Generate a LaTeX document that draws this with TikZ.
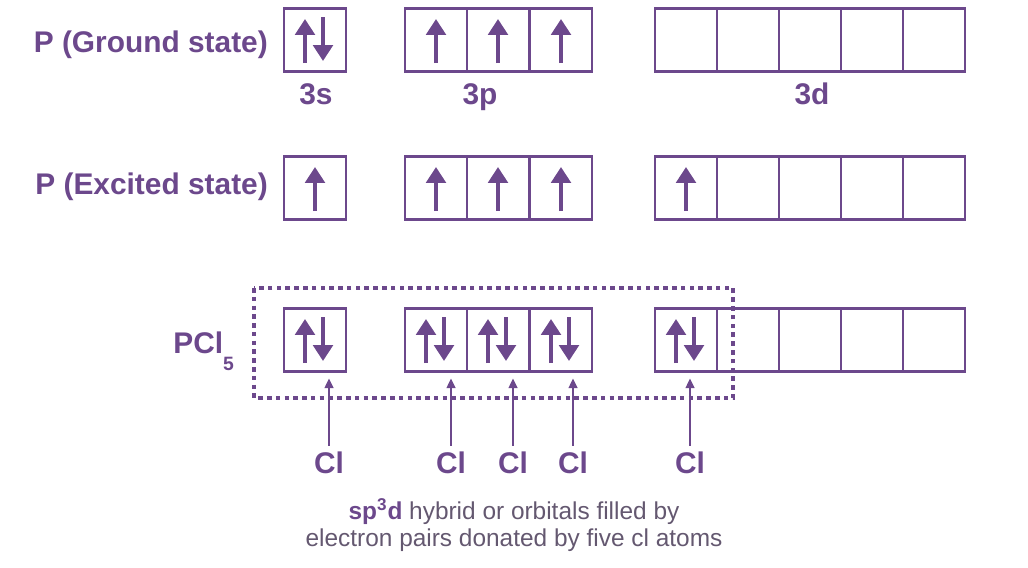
\documentclass[tikz,border=0pt]{standalone}
\usepackage{fontspec}
\setmainfont{Liberation Sans}
\usepackage{tikz}
\usetikzlibrary{arrows.meta}
\definecolor{orb}{RGB}{108,72,140}
\definecolor{note}{RGB}{100,88,112}

\begin{document}
\begin{tikzpicture}[x=0.02cm, y=-0.02cm,
    orbital/.style={draw=orb, line width=1.5pt, minimum width=1.24cm, minimum height=1.26cm, inner sep=0pt, outer sep=0pt},
    spin/.style={orb, line width=2.3pt, -{Triangle[width=11pt,length=9pt]}},
    lbl/.style={text=orb, font=\fontsize{17}{20}\selectfont\bfseries},
    donor/.style={orb, line width=1.2pt, -{Triangle[width=5pt,length=5.5pt]}}]
  \useasboundingbox (0,0) rectangle (1028,568);
  % boxes: ground, excited, PCl5
  \foreach \r/\y in {g/40, e/188, c/340} {
    \node[orbital] (\r-s) at (315,\y) {};
    \foreach \i/\x in {1/436, 2/498, 3/561}
      \node[orbital] (\r-p\i) at (\x,\y) {};
    \foreach \i/\x in {1/686, 2/748, 3/810, 4/872, 5/934}
      \node[orbital] (\r-d\i) at (\x,\y) {};
  }
  % electrons
  \foreach \x/\y in {315/40, 315/340, 436/340, 498/340, 561/340, 686/340} {
    \draw[spin] (\x-10,\y+23) -- (\x-10,\y-21);
    \draw[spin] (\x+8,\y-23) -- (\x+8,\y+21);
  }
  \foreach \x/\y in {436/40, 498/40, 561/40, 315/188, 436/188, 498/188, 561/188, 686/188}
    \draw[spin] (\x,\y+23) -- (\x,\y-21);
  % labels
  \node[lbl, anchor=east] (ground) at (274,45) {P (Ground state)};
  \node[lbl, anchor=east] (excited) at (274,187) {P (Excited state)};
  \node[lbl, anchor=base west, inner sep=0pt] (pcl) at (173,353)
    {PCl\raisebox{-10pt}{\fontsize{11}{11}\selectfont 5}};
  \node[lbl, anchor=base] (lab-s) at (316,104) {3s};
  \node[lbl, anchor=base] (lab-p) at (480,104) {3p};
  \node[lbl, anchor=base] (lab-d) at (812,104) {3d};
  % hybrid region
  \draw[orb, line width=2.1pt, dash pattern=on 2.6pt off 2.4pt] (254,288) rectangle (733,398);
  % donated pairs
  \foreach \n/\x/\b in {1/329/c-s, 2/451/c-p1, 3/513/c-p2, 4/573/c-p3, 5/690/c-d1} {
    \node[lbl] (cl\n) at (\x,463) {Cl};
    \draw[donor, shorten >=4pt] (cl\n) -- (cl\n |- \b.south);
  }
  \node[text=note, align=center, font=\fontsize{13.9}{15}\selectfont] (note) at (514,525)
    {\textcolor{orb}{\textbf{sp\textsuperscript{3}d}} hybrid or orbitals filled by\\
     electron pairs donated by five cl atoms};
\end{tikzpicture}
\end{document}
